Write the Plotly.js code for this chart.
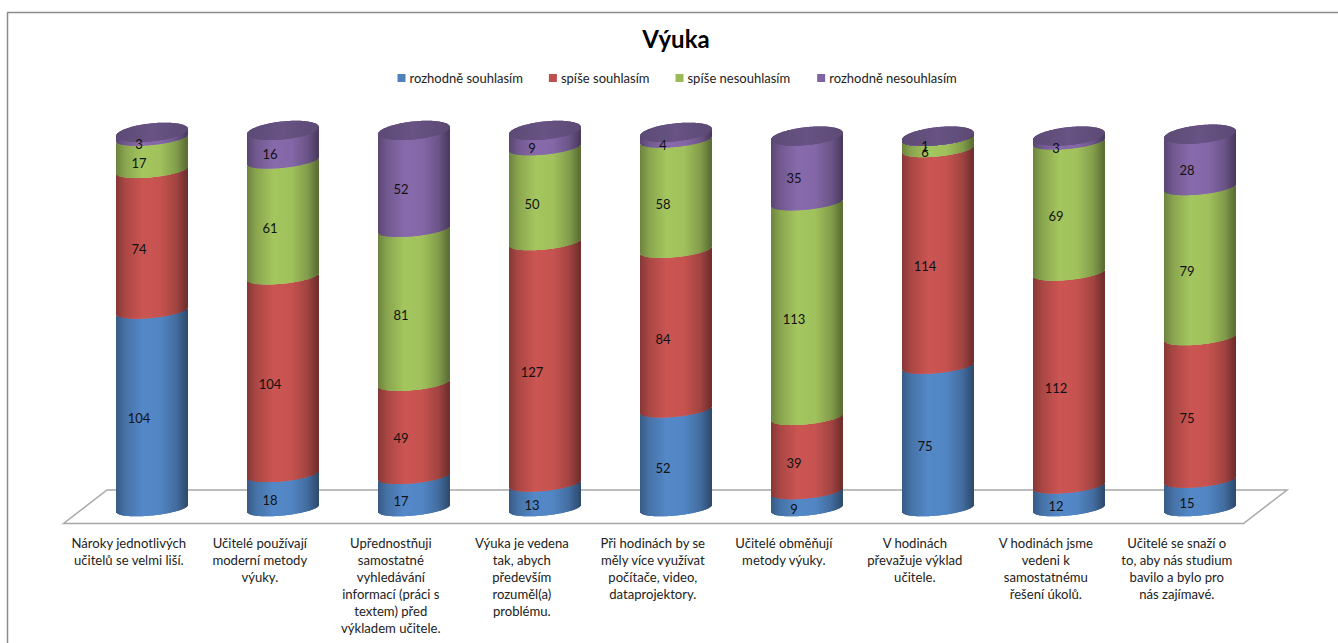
<!DOCTYPE html>
<html>
<head>
<meta charset="utf-8">
<script src="https://cdn.plot.ly/plotly-3.0.1.min.js"></script>
<style>
html,body{margin:0;padding:0;background:#fff;overflow:hidden}
#chart{width:1338px;height:643px}
.legend .legendsymbols{transform:translateX(12px)}
.legend .traces:nth-child(2){translate:-7px 0}
.legend .traces:nth-child(3){translate:-14px 0}
.legend .traces:nth-child(4){translate:-20px 0}
</style>
</head>
<body>
<div id="chart"></div>
<script>
const categories = [
  "Nároky jednotlivých<br>učitelů se velmi liší.",
  "Učitelé používají<br>moderní metody<br>výuky.",
  "Upřednostňuji<br>samostatné<br>vyhledávání<br>informací (práci s<br>textem) před<br>výkladem učitele.",
  "Výuka je vedena<br>tak, abych<br>především<br>rozuměl(a)<br>problému.",
  "Při hodinách by se<br>měly více využívat<br>počítače, video,<br>dataprojektory.",
  "Učitelé obměňují<br>metody výuky.",
  "V hodinách<br>převažuje výklad<br>učitele.",
  "V hodinách jsme<br>vedeni k<br>samostatnému<br>řešení úkolů.",
  "Učitelé se snaží o<br>to, aby nás studium<br>bavilo a bylo pro<br>nás zajímavé."
];
const rozhodneSouhlasim   = [104, 18, 17, 13, 52, 9, 75, 12, 15];
const spiseSouhlasim      = [74, 104, 49, 127, 84, 39, 114, 112, 75];
const spiseNesouhlasim    = [17, 61, 81, 50, 58, 113, 6, 69, 79];
const rozhodneNesouhlasim = [3, 16, 52, 9, 4, 35, 1, 3, 28];
const seriesNames = ["rozhodně souhlasím", "spíše souhlasím", "spíše nesouhlasím", "rozhodně nesouhlasím"];
const seriesValues = [rozhodneSouhlasim, spiseSouhlasim, spiseNesouhlasim, rozhodneNesouhlasim];
const seriesColors = ["#4f81bd", "#c0504d", "#9bbb59", "#8064a2"];

// geometry of the imitation 3-D cylinders
const W = 1338, H = 643, mL = 0, mT = 95, mB = 117;
const catPx = 131, firstPx = 151.8, zeroPx = 508.5, unitPx = 1.9;
const strips = 71, tilt = 3.5, bFront = 7, bCap = 9;
const X = px => (px - firstPx) / catPx;
const Y = py => (zeroPx - py) / unitPx;

function shade(u) {
  const pts = [[-1, .70], [-.75, .88], [-.25, 1.06], [.25, 1.03], [.7, .84], [1, .58]];
  for (let i = 1; i < pts.length; i++) {
    if (u <= pts[i][0]) {
      const a = pts[i - 1], b = pts[i], t = (u - a[0]) / (b[0] - a[0]);
      return a[1] + t * (b[1] - a[1]);
    }
  }
  return pts[pts.length - 1][1];
}
function tint(hex, f) {
  const c = [1, 3, 5].map(i => Math.min(255, Math.round(parseInt(hex.substr(i, 2), 16) * f)));
  return `rgb(${c.join(",")})`;
}

const traces = [];
const cum = categories.map(() => 0);
const textDx = -12.8 / catPx, textDy = -10.5 / unitPx;

seriesValues.forEach((vals, s) => {
  const x = [], y = [], base = [], col = [];
  vals.forEach((v, c) => {
    for (let k = 0; k < strips; k++) {
      const u = (k + .5) / strips * 2 - 1;
      const sq = Math.sqrt(1 - u * u);
      x.push(c + (k + .5 - strips / 2) / catPx);
      y.push(v);
      base.push(cum[c] - (bFront * sq - tilt * u) / unitPx);
      col.push(tint(seriesColors[s], shade(u)));
    }
  });
  traces.push({type: "bar", x, y, base, width: 1.1 / catPx, name: seriesNames[s],
    marker: {color: col, line: {width: 0}}, showlegend: false, hoverinfo: "skip"});
  traces.push({type: "scatter", mode: "text", showlegend: false, hoverinfo: "skip",
    x: vals.map((v, c) => c + textDx),
    y: vals.map((v, c) => cum[c] + v / 2 + textDy),
    text: vals.map(String), textposition: "middle center",
    textfont: {family: "Lato, sans-serif", size: 13, color: "#111"}, cliponaxis: false});
  vals.forEach((v, c) => { cum[c] += v; });
});

// top caps
{
  const x = [], y = [], base = [], col = [];
  cum.forEach((tot, c) => {
    for (let k = 0; k < strips; k++) {
      const u = (k + .5) / strips * 2 - 1;
      const sq = Math.sqrt(1 - u * u);
      x.push(c + (k + .5 - strips / 2) / catPx);
      y.push(2 * bCap * sq / unitPx);
      base.push(tot - (bCap * sq - tilt * u) / unitPx);
      col.push(tint("#64507f", .92 + .12 * (1 - Math.abs(u))));
    }
  });
  traces.push({type: "bar", x, y, base, width: 1.1 / catPx, name: "cap",
    marker: {color: col, line: {width: 0}}, showlegend: false, hoverinfo: "skip"});
}
const ordered = traces.filter(t => t.type === "bar").concat(traces.filter(t => t.type === "scatter"));

// legend entries
seriesNames.forEach((n, s) => ordered.push({type: "scatter", mode: "markers", name: n,
  x: [null], y: [null], marker: {symbol: "square", size: 8, color: seriesColors[s]}}));

const ground = [[63.5, 523.5], [107, 490], [1287, 490], [1243.5, 523.5]];
const groundPath = "M" + ground.map(p => X(p[0]) + "," + Y(p[1])).join("L") + "Z";

const layout = {
  width: W, height: H,
  margin: {l: mL, r: 0, t: mT, b: mB, pad: 0, autoexpand: false},
  paper_bgcolor: "#fff", plot_bgcolor: "rgba(0,0,0,0)",
  barmode: "overlay",
  title: {text: "<b>Výuka</b>", x: 676 / W, xanchor: "center", y: 1 - 40 / H, yanchor: "middle", yref: "container",
    font: {family: "Lato, sans-serif", size: 24, color: "#000"}},
  legend: {orientation: "h", x: 369.5 / W, xanchor: "left", y: 1 - 63 / H, yanchor: "top", yref: "container",
    font: {family: "Lato, sans-serif", size: 13, color: "#222"}, itemclick: false, itemdoubleclick: false, traceorder: "normal"},
  xaxis: {range: [X(0), X(W)], showgrid: false, zeroline: false, showline: false,
    tickmode: "array", tickvals: categories.map((_, i) => i + X(128.8)), ticktext: categories,
    ticks: "outside", ticklen: 5, tickcolor: "rgba(0,0,0,0)", tickangle: 0,
    tickfont: {family: "Lato, sans-serif", size: 13.1, color: "#222"}},
  yaxis: {range: [Y(H - mB), Y(mT)], showgrid: false, zeroline: false, showline: false, showticklabels: false, ticks: ""},
  shapes: [
    {type: "path", layer: "below", xref: "x", yref: "y", path: groundPath, fillcolor: "#fff", line: {color: "#a8a8a8", width: 1.5}},
    {type: "line", layer: "above", xref: "paper", yref: "paper", x0: 7 / W, x1: 1, y0: 1 + (mT - 12.5) / (H - mT - mB), y1: 1 + (mT - 12.5) / (H - mT - mB), line: {color: "#8c8c8c", width: 1.5}},
    {type: "line", layer: "above", xref: "paper", yref: "paper", x0: 7.5 / W, x1: 7.5 / W, y0: 1 + (mT - 12.5) / (H - mT - mB), y1: -mB / (H - mT - mB), line: {color: "#8c8c8c", width: 1.5}}
  ]
};
Plotly.newPlot("chart", ordered, layout, {displayModeBar: false});
</script>
</body>
</html>
